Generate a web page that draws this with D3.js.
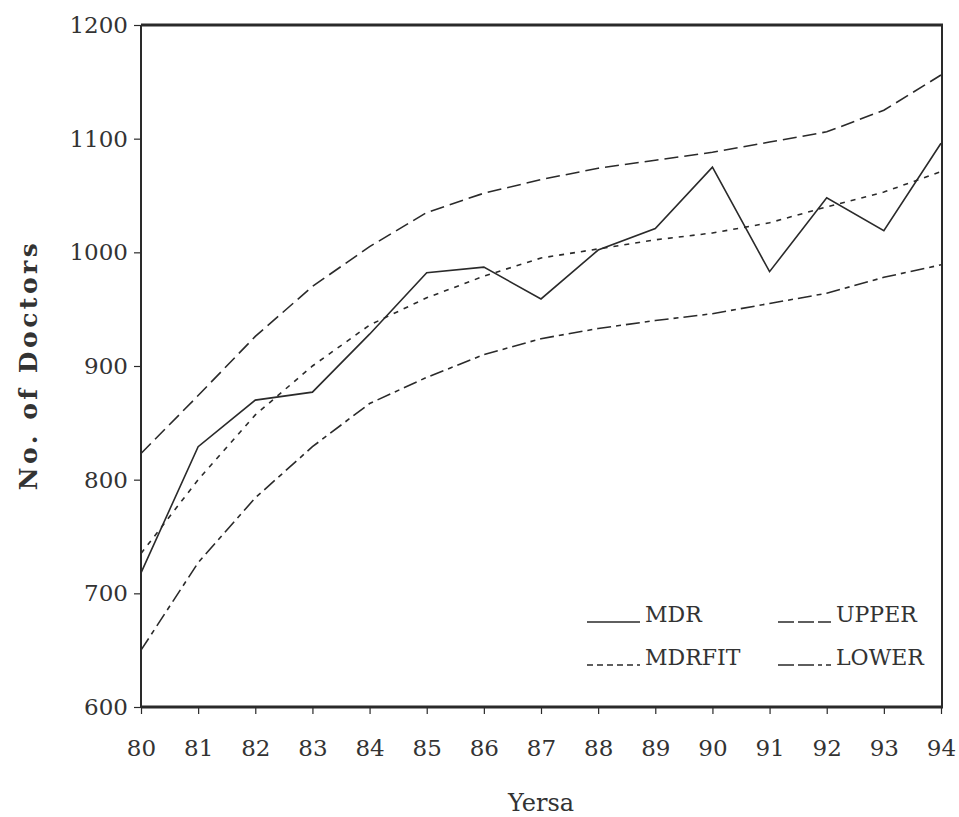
<!DOCTYPE html>
<html>
<head>
<meta charset="utf-8">
<script src="https://cdn.jsdelivr.net/npm/d3@7"></script>
<style>
  body { margin: 0; background: #fff; }
  text { font-family: "DejaVu Serif", serif; fill: #333; }
</style>
</head>
<body>
<div id="chart"></div>
<script>
// years on the x axis (19xx)
var years = [80, 81, 82, 83, 84, 85, 86, 87, 88, 89, 90, 91, 92, 93, 94];

// series
var mdr    = [718, 829, 870, 877, 928, 982, 987, 959, 1002, 1021, 1075, 983, 1048, 1019, 1096];
var mdrfit = [735, 800, 857, 900, 936, 960, 979, 995, 1003, 1011, 1017, 1026, 1040, 1053, 1071];
var upper  = [823, 874, 926, 970, 1005, 1035, 1052, 1064, 1074, 1081, 1088, 1097, 1106, 1125, 1156];
var lower  = [650, 727, 784, 829, 867, 890, 910, 924, 933, 940, 946, 955, 964, 978, 989];

var y_ticks = [600, 700, 800, 900, 1000, 1100, 1200];
var series_names = ['MDR', 'UPPER', 'MDRFIT', 'LOWER'];

var chart_width = 959;
var chart_height = 817;
// plot box edges
var plot_left = 141, plot_right = 941, plot_top = 25, plot_bottom = 707;
var ink = '#2a2a2a';

var svg = d3.select('#chart')
  .append('svg')
  .attr('width', chart_width)
  .attr('height', chart_height);

var x_scale = d3.scaleLinear().domain([80, 94]).range([plot_left, plot_right]);
var y_scale = d3.scaleLinear().domain([600, 1200]).range([plot_bottom, plot_top]);

// dash pattern per series
var styles = {
  MDR:    { values: mdr,    dash: null },
  UPPER:  { values: upper,  dash: '14,6' },
  MDRFIT: { values: mdrfit, dash: '5,6' },
  LOWER:  { values: lower,  dash: '14,5,5,5' }
};

// frame: thin sides, heavy top and bottom
svg.append('line')
  .attr('x1', plot_right + 1).attr('x2', plot_right + 1)
  .attr('y1', plot_top).attr('y2', plot_bottom)
  .attr('stroke', ink).attr('stroke-width', 2);
svg.append('line')
  .attr('x1', plot_left).attr('x2', plot_right + 2)
  .attr('y1', plot_top).attr('y2', plot_top)
  .attr('stroke', ink).attr('stroke-width', 3);

// axes
var y_axis = d3.axisLeft(y_scale)
  .tickValues(y_ticks)
  .tickSize(7)
  .tickPadding(6)
  .tickFormat(d3.format('d'));

var x_axis = d3.axisBottom(x_scale)
  .tickValues(years)
  .tickSize(7)
  .tickFormat(d3.format('d'));

var gy = svg.append('g')
  .attr('transform', 'translate(' + plot_left + ',0)')
  .call(y_axis);

var gx = svg.append('g')
  .attr('transform', 'translate(0,' + plot_bottom + ')')
  .call(x_axis);

gy.select('.domain').attr('stroke', ink).attr('stroke-width', 2)
  .attr('d', 'M0,' + plot_top + 'V' + plot_bottom);
gx.select('.domain').attr('stroke', ink).attr('stroke-width', 3)
  .attr('d', 'M' + plot_left + ',0H' + (plot_right + 2));
svg.selectAll('.tick line').attr('stroke', ink).attr('stroke-width', 1.2);
svg.selectAll('.tick text')
  .attr('font-size', 23)
  .attr('fill', '#333')
  .style('font-family', '"DejaVu Serif", serif');
gx.selectAll('.tick text').attr('y', 49).attr('dy', 0);

// lines
var line = d3.line()
  .x(function(d, i) { return x_scale(years[i]); })
  .y(function(d) { return y_scale(d); });

series_names.forEach(function(name) {
  svg.append('path')
    .datum(styles[name].values)
    .attr('d', line)
    .attr('fill', 'none')
    .attr('stroke', ink)
    .attr('stroke-width', 1.6)
    .attr('stroke-dasharray', styles[name].dash);
});

// legend, two columns and two rows
var legend_pos = {
  MDR:    [587, 622],
  UPPER:  [778, 622],
  MDRFIT: [587, 665],
  LOWER:  [778, 665]
};
var legend_dash = { MDR: null, UPPER: '16,4', MDRFIT: '6,4', LOWER: '16,4,16,4,4,4' };

series_names.forEach(function(name) {
  var p = legend_pos[name];
  svg.append('line')
    .attr('x1', p[0]).attr('x2', p[0] + 53)
    .attr('y1', p[1]).attr('y2', p[1])
    .attr('stroke', ink)
    .attr('stroke-width', 1.6)
    .attr('stroke-dasharray', legend_dash[name]);
  svg.append('text')
    .attr('x', p[0] + 58)
    .attr('y', p[1])
    .attr('font-size', 22)
    .text(name);
});

// axis titles
svg.append('text')
  .attr('x', (plot_left + plot_right) / 2)
  .attr('y', 811)
  .attr('text-anchor', 'middle')
  .attr('font-size', 24)
  .text('Yersa');

svg.append('text')
  .attr('transform', 'translate(37,365) rotate(-90)')
  .attr('text-anchor', 'middle')
  .attr('font-size', 25)
  .attr('font-weight', 'bold')
  .attr('letter-spacing', 3.5)
  .text('No.  of  Doctors');
</script>
</body>
</html>
